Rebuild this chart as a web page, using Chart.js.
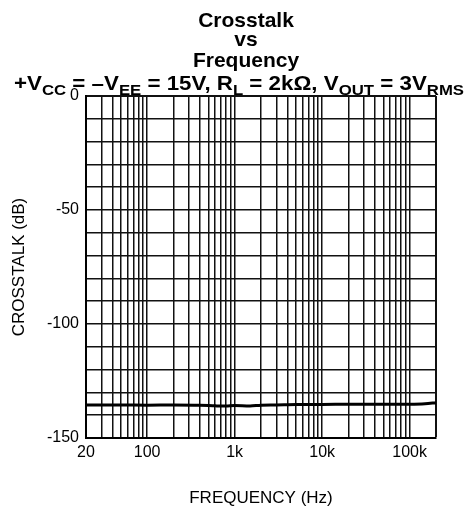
<!DOCTYPE html>
<html>
<head>
<meta charset="utf-8">
<script src="https://cdn.jsdelivr.net/npm/chart.js@4"></script>
<style>
  body { margin: 0; background: #fff; }
  #wrap { width: 468px; height: 506px; position: relative; }
</style>
</head>
<body>
<div id="wrap"><canvas id="chart"></canvas></div>
<script>
// data
var freqs = [20, 50, 100, 200, 400, 600, 800, 1000, 1500, 2000, 3000, 5000, 10000, 20000, 50000, 100000, 150000, 200000];
var crosstalk = [-135.5, -135.5, -135.6, -135.5, -135.6, -135.9, -136.0, -135.7, -136.0, -135.6, -135.5, -135.3, -135.3, -135.2, -135.2, -135.2, -135.0, -134.5];

// log grid positions and which of them get a label
var xGrid = [20, 30, 40, 50, 60, 70, 80, 90,
             100, 200, 300, 400, 500, 600, 700, 800, 900,
             1000, 2000, 3000, 4000, 5000, 6000, 7000, 8000, 9000,
             10000, 20000, 30000, 40000, 50000, 60000, 70000, 80000, 90000,
             100000, 200000];
var xTickLabels = { 20: '20', 100: '100', 1000: '1k', 10000: '10k', 100000: '100k' };
var yTickLabels = [0, -50, -100, -150];

var titleLines = ['Crosstalk', 'vs', 'Frequency'];
// [text, isSubscript]
var subtitleParts = [
  ['+V', 0], ['CC', 1], [' = \u2013V', 0], ['EE', 1], [' = 15V, R', 0], ['L', 1],
  [' = 2k\u03A9, V', 0], ['OUT', 1], [' = 3V', 0], ['RMS', 1]
];

var FONT = '"Liberation Sans", Arial, Helvetica, sans-serif';

var titlePlugin = {
  id: 'titleBlock',
  afterDraw: function(chart) {
    var ctx = chart.ctx;
    ctx.save();
    ctx.fillStyle = '#000';
    ctx.textBaseline = 'alphabetic';
    ctx.textAlign = 'center';
    ctx.font = 'bold 21px ' + FONT;
    var base = [27, 46, 67];
    titleLines.forEach(function(t, i) { ctx.fillText(t, 246, base[i]); });

    // subtitle with subscripts, fitted to the reference width
    ctx.textAlign = 'left';
    var mainFont = 'bold 20px ' + FONT, subFont = 'bold 15px ' + FONT;
    var total = 0;
    subtitleParts.forEach(function(p) {
      ctx.font = p[1] ? subFont : mainFont;
      total += ctx.measureText(p[0]).width;
    });
    var left = 14, target = 450, sx = target / total;
    ctx.translate(left, 90);
    ctx.scale(sx, 1);
    var x = 0;
    subtitleParts.forEach(function(p) {
      ctx.font = p[1] ? subFont : mainFont;
      ctx.fillText(p[0], x, p[1] ? 5 : 0);
      x += ctx.measureText(p[0]).width;
    });
    ctx.restore();
  }
};

var points = freqs.map(function(f, i) { return { x: f, y: crosstalk[i] }; });

new Chart(document.getElementById('chart'), {
  type: 'line',
  data: {
    datasets: [{
      data: points,
      borderColor: '#000',
      borderWidth: 3,
      pointRadius: 0,
      tension: 0.3,
      fill: false
    }]
  },
  options: {
    responsive: true,
    maintainAspectRatio: false,
    animation: false,
    layout: { padding: { top: 96, right: 32, left: 0, bottom: 0 } },
    plugins: { legend: { display: false }, tooltip: { enabled: false }, title: { display: false } },
    scales: {
      x: {
        type: 'logarithmic',
        min: 20,
        max: 200000,
        afterBuildTicks: function(scale) {
          scale.ticks = xGrid.map(function(v) { return { value: v }; });
        },
        afterFit: function(scale) { scale.height = 68; },
        ticks: {
          autoSkip: false,
          maxRotation: 0,
          padding: 5,
          color: '#000',
          font: { family: FONT, size: 16 },
          callback: function(v) { return xTickLabels[v] || ''; }
        },
        grid: {
          color: '#111',
          drawTicks: false,
          lineWidth: function(c) { return c.tick && c.tick.value === 200000 ? 2 : 1.5; }
        },
        border: { display: true, color: '#000', width: 2 },
        title: {
          display: true,
          text: 'FREQUENCY (Hz)',
          color: '#000',
          font: { family: FONT, size: 17 },
          padding: { top: 0, bottom: -3 }
        }
      },
      y: {
        min: -150,
        max: 0,
        afterFit: function(scale) { scale.width = 86; },
        ticks: {
          stepSize: 10,
          padding: 7,
          color: '#000',
          font: { family: FONT, size: 16 },
          callback: function(v) { return yTickLabels.indexOf(v) >= 0 ? String(v) : ''; }
        },
        grid: {
          color: '#111',
          drawTicks: false,
          lineWidth: function(c) { return c.tick && c.tick.value === 0 ? 2 : 1.5; }
        },
        border: { display: true, color: '#000', width: 2 },
        title: {
          display: true,
          text: 'CROSSTALK (dB)',
          color: '#000',
          font: { family: FONT, size: 17 },
          padding: { top: 9, bottom: 0 }
        }
      }
    }
  },
  plugins: [titlePlugin]
});
</script>
</body>
</html>
